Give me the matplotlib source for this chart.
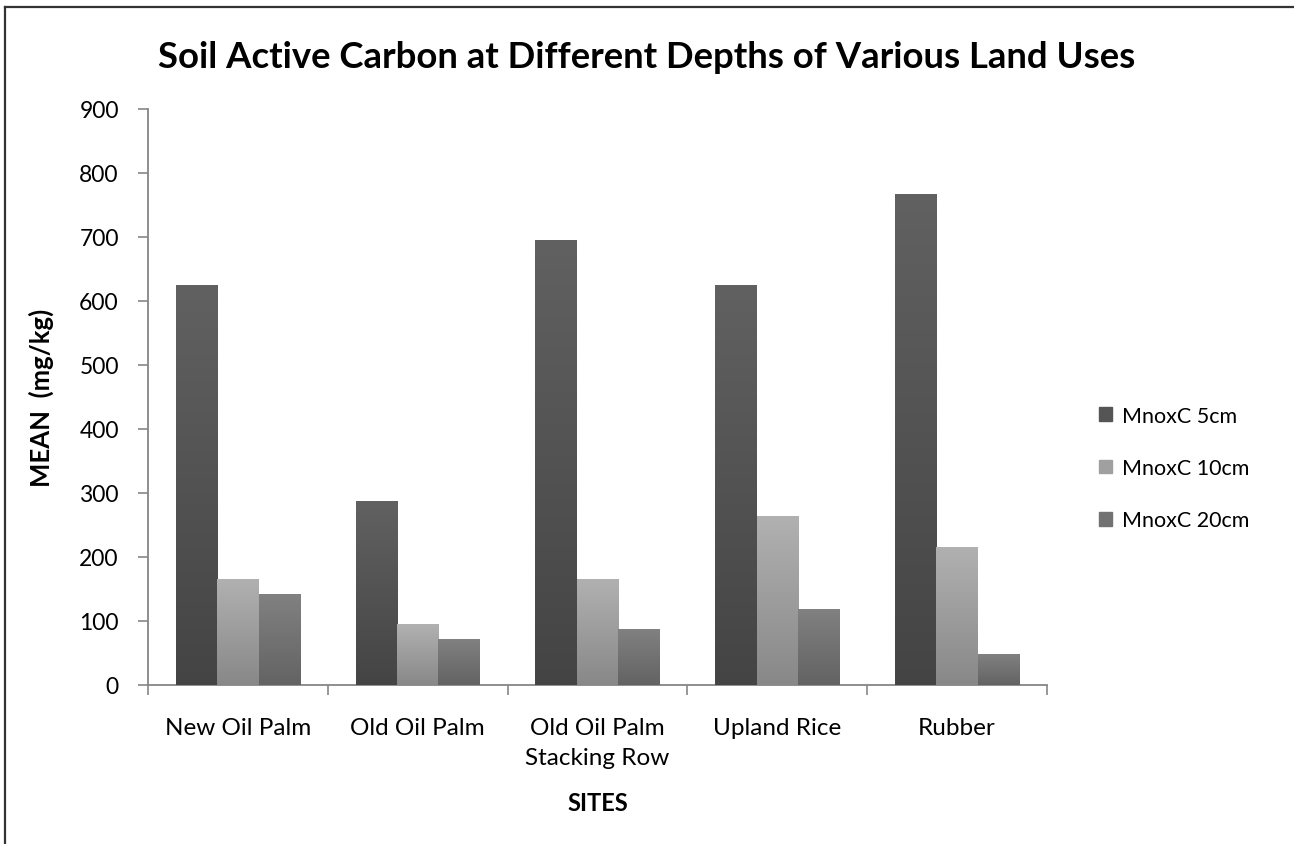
import numpy as np
import matplotlib
matplotlib.use("Agg")
import matplotlib.pyplot as plt
from matplotlib.colors import LinearSegmentedColormap
from matplotlib.patches import Rectangle
from matplotlib.lines import Line2D

categories = ["New Oil Palm", "Old Oil Palm", "Old Oil Palm\nStacking Row", "Upland Rice", "Rubber"]
series_names = ["MnoxC 5cm", "MnoxC 10cm", "MnoxC 20cm"]
mnox_5cm = [625, 288, 696, 625, 767]
mnox_10cm = [166, 95, 166, 264, 216]
mnox_20cm = [142, 72, 88, 119, 48]
yticks = [0, 100, 200, 300, 400, 500, 600, 700, 800, 900]

grad_top = ["#616161", "#b1b1b1", "#818181"]
grad_bot = ["#444444", "#888888", "#636363"]
legend_cols = ["#555555", "#a0a0a0", "#727272"]

plt.rcParams['font.family'] = ['Lato', 'DejaVu Sans']

fig = plt.figure(figsize=(12.94, 8.45), dpi=100)
ax = fig.add_axes([148/1294, 1-686/845, (1047-148)/1294, (686-110)/845])

x = np.arange(len(categories))
w = 0.23
values = [mnox_5cm, mnox_10cm, mnox_20cm]
grad = np.linspace(1, 0, 256).reshape(-1, 1)
for i, vals in enumerate(values):
    bars = ax.bar(x + (i - 1) * w, vals, w, color=legend_cols[i], label=series_names[i],
                  edgecolor='none', zorder=2)
    cmap = LinearSegmentedColormap.from_list("g%d" % i, [grad_bot[i], grad_top[i]])
    for b in bars:
        bx, by = b.get_x(), b.get_y()
        bw, bh = b.get_width(), b.get_height()
        im = ax.imshow(grad, cmap=cmap, extent=[bx, bx + bw, by, by + bh],
                       aspect='auto', zorder=3, vmin=0, vmax=1, origin='upper')
        im.set_clip_path(b)

ax.set_xlim(-0.5, len(categories) - 0.5)
ax.set_ylim(0, 900)
ax.set_yticks(yticks)
ax.set_yticklabels([str(t) for t in yticks], fontsize=16.5)
ax.set_xticks(x)
ax.set_xticklabels(categories, fontsize=17.5, linespacing=1.55)
ax.tick_params(axis='x', length=0, pad=23)
ax.set_xticks(np.arange(-0.5, len(categories)), minor=True)
ax.tick_params(axis='x', which='minor', length=7, color='#868686', width=1.2)
ax.tick_params(axis='y', length=7, color='#868686', width=1.2, pad=14)
for s in ['top', 'right']:
    ax.spines[s].set_visible(False)
for s in ['left', 'bottom']:
    ax.spines[s].set_color('#868686')
    ax.spines[s].set_linewidth(1.3)

ax.set_ylabel("MEAN  (mg/kg)", fontsize=18.5, fontweight='bold', labelpad=18)
ax.set_xlabel("SITES", fontsize=17, fontweight='bold', labelpad=16)
fig.text(647/1294, 1-57/845, "Soil Active Carbon at Different Depths of Various Land Uses",
         ha='center', va='center', fontsize=26.3, fontweight='bold')

handles = [Rectangle((0, 0), 1, 1, color=c) for c in legend_cols]
fig.legend(handles, series_names, loc='center left', bbox_to_anchor=(1080/1294, 1-469/845),
           frameon=False, fontsize=15.5, handlelength=0.6, handleheight=0.6,
           labelspacing=1.5, handletextpad=0.45)

fig.add_artist(Line2D([4.5/1294, 4.5/1294], [0, 1-8/845], transform=fig.transFigure,
                      color='#333333', linewidth=1.6))
fig.add_artist(Line2D([4.5/1294, 1], [1-8/845, 1-8/845], transform=fig.transFigure,
                      color='#333333', linewidth=1.6))

fig.savefig("out.png", dpi=100, facecolor='white')
